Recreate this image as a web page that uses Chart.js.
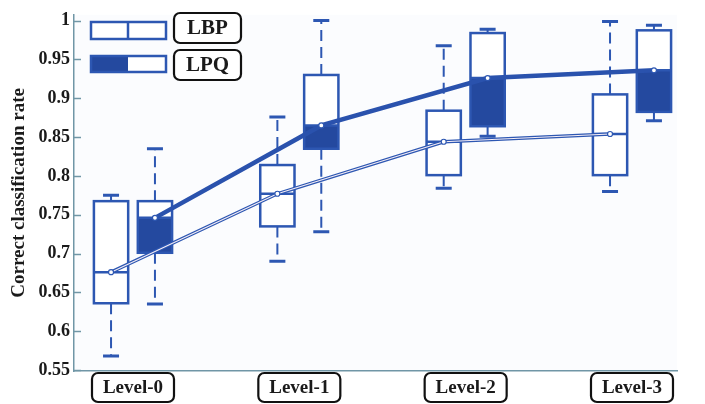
<!DOCTYPE html>
<html>
<head>
<meta charset="utf-8">
<script src="https://cdn.jsdelivr.net/npm/chart.js@4.4.1/dist/chart.umd.min.js"></script>
<style>
html, body { margin: 0; padding: 0; background: #fff; }
#wrap { width: 705px; height: 404px; }
</style>
</head>
<body>
<div id="wrap"><canvas id="chart" width="705" height="404"></canvas></div>
<script>
// data
const levels = ["Level-0", "Level-1", "Level-2", "Level-3"];
const yTicks = [0.55, 0.6, 0.65, 0.7, 0.75, 0.8, 0.85, 0.9, 0.95, 1];

const lbpMin = [0.568, 0.690, 0.784, 0.780];
const lbpQ1  = [0.636, 0.735, 0.801, 0.801];
const lbpMed = [0.676, 0.777, 0.844, 0.854];
const lbpQ3  = [0.7675, 0.814, 0.884, 0.905];
const lbpMax = [0.775, 0.876, 0.9675, 0.999];

const lpqMin = [0.635, 0.728, 0.851, 0.871];
const lpqQ1  = [0.701, 0.835, 0.864, 0.8825];
const lpqMed = [0.746, 0.865, 0.926, 0.936];
const lpqQ3  = [0.7675, 0.930, 0.984, 0.9875];
const lpqMax = [0.835, 1.0, 0.989, 0.994];

const BLUE = '#2d57b2';
const FILL = '#24499f';
const AXIS = '#7096a6';
const SERIF = '"Liberation Serif", "Times New Roman", serif';
const OFF = 0.132;   // half distance between the two boxes of a level
const HALF = 0.103;  // half box width (x units)

const lbpPts = lbpMed.map((v, i) => ({x: i - OFF, y: v}));
const lpqPts = lpqMed.map((v, i) => ({x: i + OFF, y: v}));

function drawBox(ctx, xs, ys, xc, mn, q1, md, q3, mx, filled) {
    const cx = xs.getPixelForValue(xc);
    const l = xs.getPixelForValue(xc - HALF), r = xs.getPixelForValue(xc + HALF);
    const pMin = ys.getPixelForValue(mn), pQ1 = ys.getPixelForValue(q1);
    const pMd = ys.getPixelForValue(md), pQ3 = ys.getPixelForValue(q3);
    const pMax = ys.getPixelForValue(mx);
    ctx.save();
    ctx.strokeStyle = BLUE;
    // whiskers
    ctx.lineWidth = 2;
    ctx.setLineDash([11, 6]);
    ctx.beginPath();
    ctx.moveTo(cx, pQ3); ctx.lineTo(cx, pMax);
    ctx.moveTo(cx, pQ1); ctx.lineTo(cx, pMin);
    ctx.stroke();
    ctx.setLineDash([]);
    ctx.lineWidth = 3;
    ctx.beginPath();
    ctx.moveTo(cx - 8, pMax); ctx.lineTo(cx + 8, pMax);
    ctx.moveTo(cx - 8, pMin); ctx.lineTo(cx + 8, pMin);
    ctx.stroke();
    // box
    ctx.fillStyle = '#fff';
    ctx.fillRect(l, pQ3, r - l, pQ1 - pQ3);
    if (filled) {
        ctx.fillStyle = FILL;
        ctx.fillRect(l, pMd, r - l, pQ1 - pMd);
    }
    ctx.lineWidth = 2.5;
    ctx.strokeRect(l, pQ3, r - l, pQ1 - pQ3);
    ctx.beginPath();
    ctx.moveTo(l, pMd); ctx.lineTo(r, pMd);
    ctx.stroke();
    ctx.restore();
}

function roundBox(ctx, x, y, w, h, rad) {
    ctx.beginPath();
    ctx.roundRect(x, y, w, h, rad);
    ctx.fillStyle = '#fff';
    ctx.fill();
    ctx.lineWidth = 2.2;
    ctx.strokeStyle = '#111';
    ctx.stroke();
}

const boxPlugin = {
    id: 'boxes',
    beforeDraw(chart) {
        const {ctx, chartArea: a} = chart;
        ctx.save();
        ctx.fillStyle = '#fbfcfe';
        ctx.fillRect(a.left, a.top, a.right - a.left, a.bottom - a.top);
        ctx.restore();
    },
    beforeDatasetsDraw(chart) {
        const ctx = chart.ctx, xs = chart.scales.x, ys = chart.scales.y;
        levels.forEach((lv, i) => {
            drawBox(ctx, xs, ys, i - OFF, lbpMin[i], lbpQ1[i], lbpMed[i], lbpQ3[i], lbpMax[i], false);
            drawBox(ctx, xs, ys, i + OFF, lpqMin[i], lpqQ1[i], lpqMed[i], lpqQ3[i], lpqMax[i], true);
        });
    },
    afterDraw(chart) {
        const ctx = chart.ctx, xs = chart.scales.x, ys = chart.scales.y;
        const a = chart.chartArea;
        ctx.save();
        // inward tick marks on the y axis
        ctx.strokeStyle = AXIS;
        ctx.lineWidth = 1.5;
        ctx.beginPath();
        yTicks.forEach(v => {
            const py = Math.round(ys.getPixelForValue(v)) + 0.5;
            ctx.moveTo(a.left, py); ctx.lineTo(a.left + 7, py);
        });
        ctx.stroke();
        // level labels in rounded boxes
        ctx.font = 'bold 19px ' + SERIF;
        ctx.textAlign = 'center';
        ctx.textBaseline = 'middle';
        levels.forEach((lv, i) => {
            const px = xs.getPixelForValue(i);
            roundBox(ctx, px - 41, a.bottom + 2, 82, 29, 6);
            ctx.fillStyle = '#1a1a1a';
            ctx.fillText(lv, px, a.bottom + 17);
        });
        // legend
        ctx.fillStyle = '#fff';
        ctx.strokeStyle = BLUE;
        ctx.lineWidth = 2.5;
        ctx.fillRect(91, 22, 75, 17);
        ctx.strokeRect(91, 22, 75, 17);
        ctx.beginPath(); ctx.moveTo(128, 22); ctx.lineTo(128, 39); ctx.stroke();
        ctx.fillRect(91, 56, 75, 16);
        ctx.fillStyle = FILL;
        ctx.fillRect(91, 56, 37, 16);
        ctx.strokeRect(91, 56, 75, 16);
        roundBox(ctx, 174, 13, 67, 30, 6);
        roundBox(ctx, 174, 50, 67, 30, 6);
        ctx.font = 'bold 21px ' + SERIF;
        ctx.fillStyle = '#1a1a1a';
        ctx.fillText('LBP', 207.5, 29);
        ctx.fillText('LPQ', 207.5, 66);
        ctx.restore();
    }
};

new Chart(document.getElementById('chart'), {
    type: 'line',
    data: {
        datasets: [
            {
                data: lpqPts, borderColor: '#2a52ad', borderWidth: 4.5,
                pointRadius: 2.5, pointBackgroundColor: '#fff', pointBorderColor: BLUE,
                pointBorderWidth: 1.2, order: 1
            },
            {
                data: lbpPts, borderColor: '#f6eef6', borderWidth: 1.1,
                pointRadius: 2.5, pointBackgroundColor: '#fff', pointBorderColor: BLUE,
                pointBorderWidth: 1.2, order: 2
            },
            {
                data: lbpPts, borderColor: BLUE, borderWidth: 3.5,
                pointRadius: 0, order: 3
            }
        ]
    },
    options: {
        responsive: false,
        animation: false,
        layout: { padding: { top: 4, right: 28, left: 0, bottom: 0 } },
        plugins: { legend: { display: false }, tooltip: { enabled: false } },
        scales: {
            x: {
                type: 'linear', min: -0.3547, max: 3.2706,
                grid: { display: false },
                border: { color: AXIS, width: 1.5 },
                ticks: { display: false },
                afterFit(s) { s.height = 33; }
            },
            y: {
                type: 'linear', min: 0.54875, max: 1.0075,
                afterBuildTicks(s) { s.ticks = yTicks.map(v => ({ value: v })); },
                grid: { display: false, drawTicks: false },
                border: { color: AXIS, width: 1.5 },
                ticks: {
                    color: '#1a1a1a', padding: 4,
                    font: { family: SERIF, weight: 'bold', size: 18 },
                    callback: v => String(+v.toFixed(2))
                },
                title: {
                    display: true, text: 'Correct classification rate', color: '#1a1a1a',
                    font: { family: SERIF, weight: 'bold', size: 19 },
                    padding: { top: 8, bottom: 0 }
                },
                afterFit(s) { s.width = 74; }
            }
        }
    },
    plugins: [boxPlugin]
});
</script>
</body>
</html>
